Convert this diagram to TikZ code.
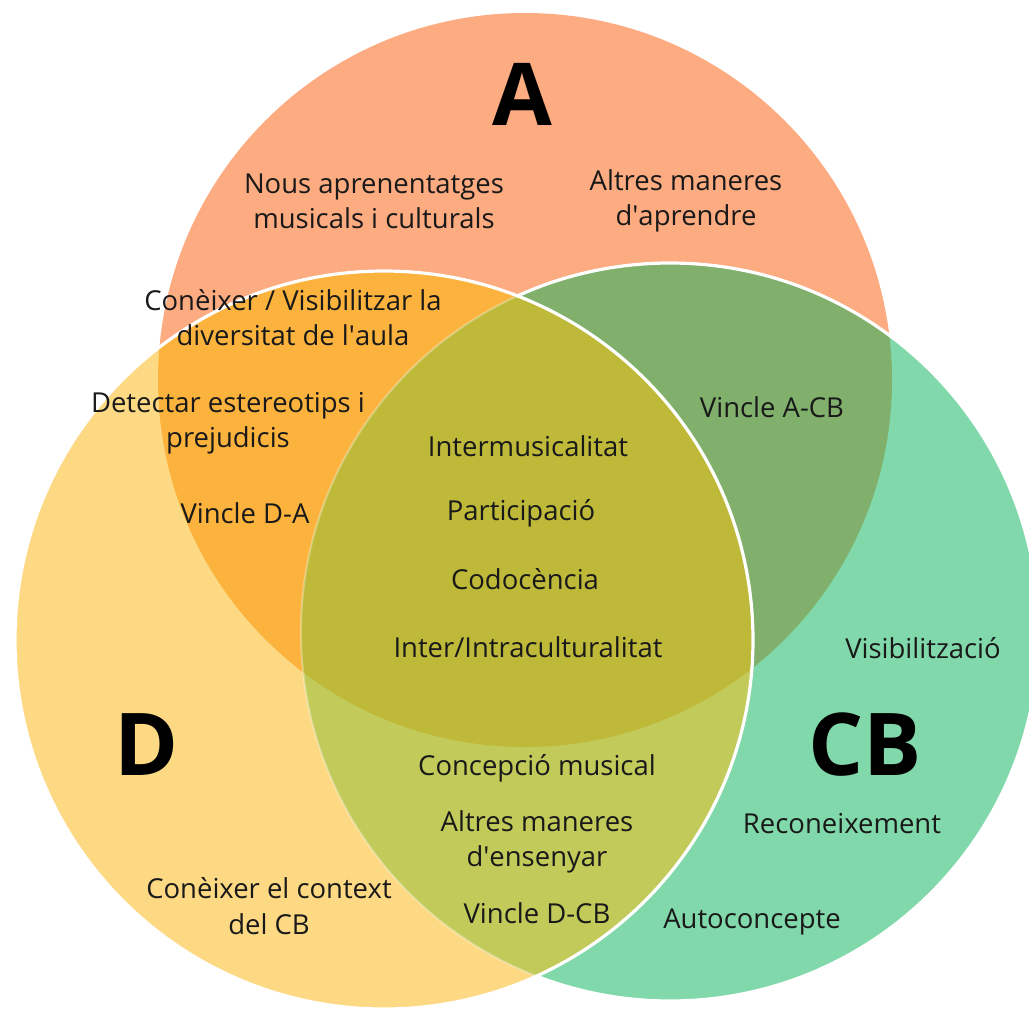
\documentclass[tikz,border=0pt]{standalone}
\usepackage{fontspec}
\setmainfont{Open Sans}
\newcommand{\apos}{\textquotesingle}
\begin{document}
\begin{tikzpicture}[x=0.75pt,y=-0.75pt,
  lbl/.style={font=\fontsize{20.6}{26.4}\selectfont,align=center,inner sep=0pt,text=black!90},
  setname/.style={font=\fontsize{65}{65}\selectfont\bfseries,inner sep=0pt,text=black},
  rim/.style={draw=white,line width=2.4pt}]
\definecolor{cA}{RGB}{253,171,128}
\definecolor{cD}{RGB}{253,217,132}
\definecolor{cCB}{RGB}{129,216,170}
\definecolor{cAD}{RGB}{251,179,62}
\definecolor{cACB}{RGB}{128,176,108}
\definecolor{cDCB}{RGB}{194,202,90}
\definecolor{cADCB}{RGB}{191,185,58}
\useasboundingbox (0,0) rectangle (1029,1008);
\clip (0,0) rectangle (1029,1008);
% circle centres
\coordinate (ca) at (525,380);
\coordinate (cd) at (384,640);
\coordinate (cb) at (670,632);
\def\rA{275.25pt}
\def\rD{276.75pt}
\def\rB{276.75pt}
% set A
\fill[cA] (ca) circle[radius=\rA];
% set CB
\fill[cCB] (cb) circle[radius=\rB];
\begin{scope}
  \clip (ca) circle[radius=\rA];
  \fill[cACB] (cb) circle[radius=\rB];
\end{scope}
\draw[rim] (cb) circle[radius=\rB];
% set D
\fill[cD] (cd) circle[radius=\rD];
\begin{scope}
  \clip (cd) circle[radius=\rD];
  \fill[cAD] (ca) circle[radius=\rA];
  \fill[cDCB] (cb) circle[radius=\rB];
  \clip (ca) circle[radius=\rA];
  \fill[cADCB] (cb) circle[radius=\rB];
\end{scope}
\begin{scope}
  \clip (cd) circle[radius=\rD];
  \draw[draw=white,opacity=0.3,line width=1.6pt] (cb) circle[radius=\rB];
\end{scope}
\draw[rim] (cd) circle[radius=\rD];
% set names
\node[setname] (nA) at (522,94) {A};
\node[setname] (nD) at (147,745) {D};
\node[setname] (nCB) at (865,745) {CB};
% A only
\node[lbl] (a1) at (374,201) {Nous aprenentatges\\musicals i culturals};
\node[lbl] (a2) at (686,201) {Altres maneres\\d\apos aprendre};
% A and D
\node[lbl] (ad1) at (293,318) {Conèixer / Visibilitzar la\\diversitat de l\apos aula};
\node[lbl] (ad2) at (228,423) {Detectar estereotips i\\prejudicis};
\node[lbl] (ad3) at (245,513) {Vincle D-A};
% A and CB
\node[lbl] (acb) at (772,407) {Vincle A-CB};
% all three
\node[lbl] (m1) at (528,446) {Intermusicalitat};
\node[lbl] (m2) at (521,513) {Participació};
\node[lbl] (m3) at (525,579) {Codocència};
\node[lbl] (m4) at (528,647) {Inter/Intraculturalitat};
% CB only
\node[lbl] (b1) at (923,648) {Visibilització};
\node[lbl] (b2) at (842,824) {Reconeixement};
\node[lbl] (b3) at (752,922) {Autoconcepte};
% D and CB
\node[lbl] (dcb1) at (537,768) {Concepció musical};
\node[lbl] (dcb2) at (537,842) {Altres maneres\\d\apos ensenyar};
\node[lbl] (dcb3) at (537,913) {Vincle D-CB};
% D only
\node[lbl] (d1) at (269,906) {Conèixer el context\\del CB};
\end{tikzpicture}
\end{document}
